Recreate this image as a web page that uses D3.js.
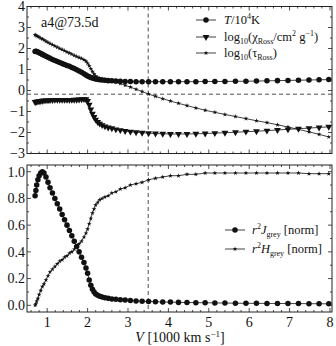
<!DOCTYPE html>
<html>
<head>
<meta charset="utf-8">
<script src="https://cdn.jsdelivr.net/npm/d3@7"></script>
<style>
  html, body { margin: 0; padding: 0; background: #fff; }
  svg text { font-family: "Liberation Serif", "DejaVu Serif", serif; fill: #111; }
</style>
</head>
<body>
<div id="chart"></div>
<script>
// velocity grid [1000 km/s]
const V = [0.70,0.72,0.74,0.77,0.80,0.84,0.88,0.92,0.97,1.02,1.07,1.13,1.19,1.25,1.31,1.37,1.43,1.49,1.55,1.61,
  1.67,1.73,1.79,1.85,1.91,1.96,2.00,2.04,2.08,2.12,2.16,2.20,2.25,2.30,2.36,2.43,2.51,2.60,2.70,2.81,
  2.93,3.06,3.20,3.35,3.51,3.68,3.86,4.05,4.25,4.46,4.68,4.91,5.15,5.40,5.66,5.92,6.18,6.44,6.70,6.96,
  7.22,7.48,7.73,7.97];

const T_VAL = [1.86,1.87,1.86,1.83,1.80,1.76,1.72,1.68,1.63,1.58,1.54,1.48,1.43,1.38,1.33,1.28,1.24,1.19,1.15,1.10,
  1.05,0.99,0.93,0.87,0.80,0.74,0.69,0.65,0.62,0.59,0.57,0.55,0.53,0.51,0.50,0.49,0.47,0.46,0.45,0.44,
  0.43,0.43,0.42,0.42,0.42,0.42,0.42,0.42,0.42,0.42,0.42,0.43,0.43,0.43,0.44,0.44,0.45,0.46,0.47,0.48,
  0.49,0.50,0.51,0.52];

const CHI_VAL = [-0.55,-0.54,-0.53,-0.52,-0.51,-0.50,-0.49,-0.48,-0.47,-0.47,-0.46,-0.46,-0.45,-0.45,-0.45,-0.45,-0.45,-0.45,-0.45,-0.45,
  -0.44,-0.44,-0.43,-0.42,-0.41,-0.42,-0.50,-0.68,-0.90,-1.10,-1.26,-1.39,-1.50,-1.58,-1.65,-1.71,-1.76,-1.80,-1.85,-1.89,
  -1.93,-1.96,-1.99,-2.01,-2.03,-2.05,-2.06,-2.07,-2.07,-2.07,-2.06,-2.05,-2.03,-2.01,-1.99,-1.96,-1.94,-1.91,-1.88,-1.85,
  -1.82,-1.79,-1.76,-1.73];

const TAU_VAL = [2.65,2.63,2.60,2.57,2.54,2.49,2.45,2.40,2.34,2.29,2.24,2.18,2.12,2.06,2.00,1.95,1.89,1.83,1.78,1.73,
  1.67,1.62,1.57,1.52,1.46,1.39,1.30,1.18,1.04,0.90,0.78,0.69,0.62,0.58,0.55,0.52,0.48,0.44,0.39,0.33,
  0.25,0.16,0.06,-0.05,-0.17,-0.28,-0.39,-0.50,-0.61,-0.72,-0.83,-0.94,-1.04,-1.14,-1.24,-1.34,-1.44,-1.53,-1.63,-1.74,
  -1.85,-1.97,-2.09,-2.21];

const J_VAL = [0.82,0.86,0.90,0.94,0.97,0.99,1.00,0.99,0.96,0.92,0.88,0.84,0.80,0.76,0.72,0.68,0.64,0.60,0.56,0.52,
  0.48,0.44,0.40,0.36,0.32,0.28,0.24,0.19,0.15,0.12,0.10,0.085,0.075,0.068,0.062,0.057,0.052,0.048,0.045,0.042,
  0.039,0.036,0.033,0.031,0.029,0.027,0.025,0.024,0.022,0.021,0.020,0.019,0.018,0.017,0.016,0.015,0.015,0.014,0.014,0.013,
  0.013,0.012,0.012,0.011];

const H_VAL = [0.00,0.01,0.03,0.05,0.08,0.11,0.14,0.16,0.19,0.22,0.25,0.27,0.29,0.31,0.33,0.34,0.36,0.37,0.39,0.40,
  0.42,0.44,0.46,0.48,0.51,0.54,0.57,0.61,0.65,0.69,0.72,0.75,0.77,0.79,0.80,0.81,0.82,0.84,0.85,0.87,
  0.88,0.90,0.91,0.92,0.94,0.95,0.96,0.97,0.97,0.98,0.98,0.99,0.99,0.99,0.99,0.99,0.99,0.99,0.99,0.99,
  0.99,0.985,0.985,0.985];

const X_TICKS = [1, 2, 3, 4, 5, 6, 7, 8];
const TOP_Y_TICKS = [-3, -2, -1, 0, 1, 2, 3, 4];
const BOT_Y_TICKS = [0.0, 0.2, 0.4, 0.6, 0.8, 1.0];
const V_PHOT = 3.5;                 // where tau_Ross = 2/3
const TAU_PHOT = Math.log10(2 / 3);

const width = 336, height = 346;
const left = 27, right = 332;
const STAR = 7, DOT = 24, TRI = 20;

const svg = d3.select("#chart").append("svg")
  .attr("width", width).attr("height", height);

const x = d3.scaleLinear().domain([0.5, 8.05]).range([left, right]);
const yTop = d3.scaleLinear().domain([-3, 4]).range([153.5, 6.5]);
const yBot = d3.scaleLinear().domain([-0.05, 1.05]).range([312, 165]);

const fmtMinus = (d) => d < 0 ? "\u2212" + Math.abs(d) : String(d);

function drawFrame(y, yTicks, yMinor, yFmt, showX) {
  const [y0, y1] = y.range();
  const g = svg.append("g");
  g.append("rect")
    .attr("x", left).attr("y", y1)
    .attr("width", right - left).attr("height", y0 - y1)
    .attr("fill", "none").attr("stroke", "#222").attr("stroke-width", 1);

  const xMinor = d3.range(0.6, 8.01, 0.2).filter((v) => Math.abs(v - Math.round(v)) > 0.01);
  const tick = (x1, y1_, x2, y2) => g.append("line")
    .attr("x1", x1).attr("y1", y1_).attr("x2", x2).attr("y2", y2)
    .attr("stroke", "#222").attr("stroke-width", 0.8);

  X_TICKS.forEach((v) => { tick(x(v), y0, x(v), y0 - 4); tick(x(v), y1, x(v), y1 + 4); });
  xMinor.forEach((v) => { tick(x(v), y0, x(v), y0 - 2); tick(x(v), y1, x(v), y1 + 2); });
  yTicks.forEach((v) => { tick(left, y(v), left + 4, y(v)); tick(right, y(v), right - 4, y(v)); });
  yMinor.forEach((v) => { tick(left, y(v), left + 2, y(v)); tick(right, y(v), right - 2, y(v)); });

  g.selectAll(".ylab").data(yTicks).join("text")
    .attr("x", left - 2).attr("y", (d) => y(d)).attr("dy", "0.35em")
    .attr("text-anchor", "end").attr("font-size", "14px")
    .text(yFmt);

  if (showX) {
    g.selectAll(".xlab").data(X_TICKS).join("text")
      .attr("x", (d) => x(d)).attr("y", y0 + 15)
      .attr("text-anchor", "middle").attr("font-size", "14px")
      .text((d) => d);
  }
}

function drawSeries(y, vals, symbol, size, rotate) {
  const pts = V.map((v, i) => [v, vals[i]]);
  svg.append("path")
    .datum(pts)
    .attr("fill", "none").attr("stroke", "#111").attr("stroke-width", 0.8)
    .attr("d", d3.line().x((d) => x(d[0])).y((d) => y(d[1])));
  svg.append("g").selectAll("path").data(pts).join("path")
    .attr("d", d3.symbol().type(symbol).size(size))
    .attr("transform", (d) => `translate(${x(d[0])},${y(d[1])})${rotate ? " rotate(180)" : ""}`)
    .attr("fill", "#111");
}

// ---- top panel
drawFrame(yTop, TOP_Y_TICKS, d3.range(-2.5, 4, 1), fmtMinus, false);

svg.append("line")
  .attr("x1", left).attr("x2", right)
  .attr("y1", yTop(TAU_PHOT)).attr("y2", yTop(TAU_PHOT))
  .attr("stroke", "#222").attr("stroke-width", 0.8).attr("stroke-dasharray", "4,3");
svg.append("line")
  .attr("x1", x(V_PHOT)).attr("x2", x(V_PHOT))
  .attr("y1", yTop.range()[1]).attr("y2", yTop.range()[0])
  .attr("stroke", "#222").attr("stroke-width", 0.8).attr("stroke-dasharray", "4,3");

drawSeries(yTop, T_VAL, d3.symbolCircle, DOT, false);
drawSeries(yTop, CHI_VAL, d3.symbolTriangle, TRI, true);
drawSeries(yTop, TAU_VAL, d3.symbolStar, STAR, false);

svg.append("text").attr("x", 41).attr("y", 27).attr("font-size", "14px").text("a4@73.5d");

// top legend
const legTop = svg.append("g").attr("font-size", "12.5px");
const legendRow = (g, lx, ly, symbol, size, rotate) => {
  g.append("line").attr("x1", lx).attr("x2", lx + 20).attr("y1", ly).attr("y2", ly)
    .attr("stroke", "#111").attr("stroke-width", 0.8);
  g.append("path").attr("d", d3.symbol().type(symbol).size(size))
    .attr("transform", `translate(${lx + 10},${ly})${rotate ? " rotate(180)" : ""}`)
    .attr("fill", "#111");
};
legendRow(legTop, 196, 20, d3.symbolCircle, DOT, false);
legendRow(legTop, 196, 37, d3.symbolTriangle, TRI, true);
legendRow(legTop, 196, 53, d3.symbolStar, STAR, false);

let t = legTop.append("text").attr("x", 224).attr("y", 24);
t.append("tspan").attr("font-style", "italic").text("T");
t.append("tspan").text("/10");
t.append("tspan").attr("font-size", "8px").attr("dy", -5).text("4");
t.append("tspan").attr("dy", 5).text("K");

t = legTop.append("text").attr("x", 224).attr("y", 41);
t.append("tspan").text("log");
t.append("tspan").attr("font-size", "8px").attr("dy", 3).text("10");
t.append("tspan").attr("dy", -3).text("(\u03C7");
t.append("tspan").attr("font-size", "8px").attr("dy", 3).text("Ross");
t.append("tspan").attr("dy", -3).text("/cm");
t.append("tspan").attr("font-size", "8px").attr("dy", -5).text("2");
t.append("tspan").attr("dy", 5).text(" g");
t.append("tspan").attr("font-size", "8px").attr("dy", -5).text("\u22121");
t.append("tspan").attr("dy", 5).text(")");

t = legTop.append("text").attr("x", 224).attr("y", 57);
t.append("tspan").text("log");
t.append("tspan").attr("font-size", "8px").attr("dy", 3).text("10");
t.append("tspan").attr("dy", -3).text("(\u03C4");
t.append("tspan").attr("font-size", "8px").attr("dy", 3).text("Ross");
t.append("tspan").attr("dy", -3).text(")");

// ---- bottom panel
drawFrame(yBot, BOT_Y_TICKS, d3.range(0.1, 1.0, 0.2), (d) => d.toFixed(1), true);

svg.append("line")
  .attr("x1", x(V_PHOT)).attr("x2", x(V_PHOT))
  .attr("y1", yBot.range()[1]).attr("y2", yBot.range()[0])
  .attr("stroke", "#222").attr("stroke-width", 0.8).attr("stroke-dasharray", "4,3");

drawSeries(yBot, J_VAL, d3.symbolCircle, DOT, false);
drawSeries(yBot, H_VAL, d3.symbolStar, STAR, false);

const legBot = svg.append("g").attr("font-size", "12.5px");
legendRow(legBot, 225, 230, d3.symbolCircle, DOT, false);
legendRow(legBot, 225, 249, d3.symbolStar, STAR, false);

t = legBot.append("text").attr("x", 252).attr("y", 234);
t.append("tspan").attr("font-style", "italic").text("r");
t.append("tspan").attr("font-size", "8px").attr("dy", -5).text("2");
t.append("tspan").attr("dy", 5).attr("font-style", "italic").text("J");
t.append("tspan").attr("font-size", "8px").attr("dy", 3).text("grey");
t.append("tspan").attr("dy", -3).text(" [norm]");

t = legBot.append("text").attr("x", 252).attr("y", 253);
t.append("tspan").attr("font-style", "italic").text("r");
t.append("tspan").attr("font-size", "8px").attr("dy", -5).text("2");
t.append("tspan").attr("dy", 5).attr("font-style", "italic").text("H");
t.append("tspan").attr("font-size", "8px").attr("dy", 3).text("grey");
t.append("tspan").attr("dy", -3).text(" [norm]");

// x axis title
t = svg.append("text").attr("x", 180).attr("y", 342).attr("text-anchor", "middle").attr("font-size", "14px");
t.append("tspan").attr("font-style", "italic").text("V");
t.append("tspan").text(" [1000 km s");
t.append("tspan").attr("font-size", "9px").attr("dy", -5).text("\u22121");
t.append("tspan").attr("dy", 5).text("]");
</script>
</body>
</html>
